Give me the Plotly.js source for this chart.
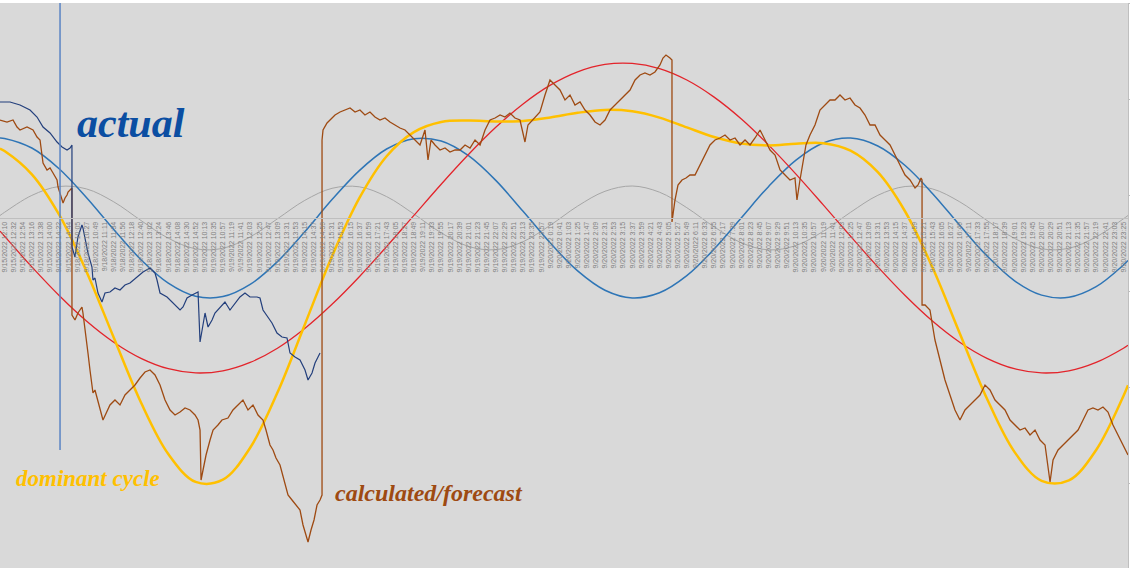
<!DOCTYPE html>
<html><head><meta charset="utf-8">
<script src="https://cdn.plot.ly/plotly-3.0.1.min.js"></script>
<style>html,body{margin:0;padding:0;background:#fff;} #chart{width:1130px;height:568px;}</style>
</head><body><div id="chart"></div>
<script>
// ---- tick labels (category axis, one label every 22 minutes) ----
const day0915 = "9/15/2022";
const times0915 = ["12:10","12:32","12:54","13:16","13:38","14:00","14:22","14:44"];
const day0918 = "9/18/2022";
const times0918 = ["10:05","10:27","10:49","11:11","11:34","11:56","12:18","12:40","13:02","13:24","13:46","14:08","14:30","14:52"];
const day0919 = "9/19/2022";
const times0919 = ["10:13","10:35","10:57","11:19","11:41","12:03","12:25","12:47","13:09","13:31","13:53","14:15","14:37","14:59",
  "15:31","15:53","16:15","16:37","16:59","17:21","17:43","18:05","18:27","18:49","19:11","19:33","19:55","20:17","20:39",
  "21:01","21:23","21:45","22:07","22:29","22:51","23:13","23:35","23:57"];
const day0920 = "9/20/2022";
const times0920 = ["0:19","0:41","1:03","1:25","1:47","2:09","2:31","2:53","3:15","3:37","3:59","4:21","4:43","5:05","5:27",
  "5:49","6:11","6:33","6:55","7:17","7:39","8:01","8:23","8:45","9:07","9:29","9:51","10:13","10:35","10:57","11:19","11:41",
  "12:03","12:25","12:47","13:09","13:31","13:53","14:15","14:37","14:59","15:21","15:43","16:05","16:27","16:49","17:11",
  "17:33","17:55","18:17","18:39","19:01","19:23","19:45","20:07","20:29","20:51","21:13","21:35","21:57","22:19","22:41",
  "23:03","23:25"];

// ---- cycle components (x in label units) ----
const cycleX = [-0.5,0,3,6,9,12,15,18,21,24,27,30,33,36,39,42,45,48,51,54,57,60,63,66,69,72,75,78,81,84,87,90,93,96,99,102,105,108,111,114,117,120,123,123.5];
const greyCycle = [2.5,5.7,22.6,31.5,29.1,16.2,-2.5,-20.2,-30.8,-30.3,-18.9,-0.8,17.6,29.7,31.2,21.4,4.0,-14.8,-28.4,-31.7,-23.7,-7.2,11.9,26.7,32.0,25.8,10.3,-8.8,-24.8,-31.9,-27.5,-13.3,5.7,22.7,31.5,29.1,16.2,-2.5,-20.3,-30.8,-30.3,-18.9,-0.8,2.5];
const blueCycle = [80,79.6,70.0,49.3,20.5,-11.5,-41.7,-65.1,-78.2,-78.6,-66.4,-43.6,-13.8,18.4,47.4,69.0,79.3,77.0,62.3,37.6,6.7,-25.1,-52.9,-72.2,-79.9,-74.8,-57.7,-31.1,0.3,31.6,57.9,75.0,79.9,72.0,52.5,24.6,-7.3,-37.9,-62.6,-77.1,-79.3,-68.7,-47.0,-42.5];
const redCycle = [-13.1,-18.3,-48.9,-77.5,-103.0,-124.2,-140.3,-150.7,-154.9,-152.8,-144.4,-130.2,-110.5,-86.3,-58.7,-28.6,2.6,33.8,63.5,90.7,114.1,132.9,146.2,153.6,154.6,149.4,138.0,120.9,99.0,72.9,43.9,13.1,-18.3,-48.9,-77.5,-103.0,-124.2,-140.3,-150.7,-154.9,-152.8,-144.4,-130.2,-127.2];
const dominantCycle = [69.4,67.0,43.7,3.3,-53.4,-119.5,-184.5,-236.0,-263.9,-261.7,-229.7,-174.6,-106.7,-38.2,19.9,61.8,85.9,96.0,97.4,96.6,97.1,100.6,105.2,108.1,106.7,100.4,90.6,81.0,74.5,72.6,74.3,74.8,67.3,45.8,6.5,-49.3,-115.3,-180.7,-233.6,-262.8,-262.4,-232.0,-178.0,-167.2];

// ---- calculated / forecast series ----
const forecastX = [-0.5,0.27,0.93,1.37,1.70,2.47,3.13,3.57,3.90,4.12,4.23,4.67,5.00,5.33,5.77,5.88,6.10,6.32,6.43,6.65,6.87,6.98,7.20,7.41,7.41,7.74,8.07,8.51,8.62,8.84,9.06,9.17,9.39,9.61,9.72,9.94,10.16,10.49,10.82,11.59,12.14,12.69,13.24,13.79,14.34,14.89,15.44,15.99,16.54,17.09,17.64,18.19,18.74,19.29,19.84,20.39,20.94,21.27,21.49,21.60,21.82,22.15,22.59,22.92,23.46,23.90,24.56,25.11,25.66,26.21,26.76,27.31,27.86,28.41,28.74,29.18,29.51,29.84,30.28,30.72,31.16,31.60,32.04,32.48,32.81,33.14,33.36,33.69,34.02,34.35,34.68,34.90,34.90,35.01,35.45,35.78,36.33,36.88,37.43,37.98,38.53,39.07,39.62,40.17,40.72,41.27,41.82,42.37,42.92,43.47,44.02,44.57,45.12,45.67,46.22,46.55,46.88,47.32,47.87,48.42,48.97,49.52,50.07,50.62,51.17,51.72,52.27,52.82,53.37,53.92,54.47,55.01,55.56,56.11,56.66,57.21,57.54,58.31,58.86,59.41,59.96,60.51,61.06,61.61,62.16,62.71,63.26,63.81,64.36,64.91,65.46,66.01,66.56,67.11,67.66,68.21,68.76,69.31,69.86,70.40,70.95,71.50,72.05,72.38,72.71,73.15,73.37,73.37,73.70,74.03,74.47,74.91,75.35,75.90,76.45,77.00,77.55,78.10,78.65,79.20,79.75,80.30,80.85,81.40,81.95,82.50,83.05,83.60,84.15,84.70,85.25,85.80,86.34,86.89,87.11,87.44,87.77,88.10,88.54,89.09,89.64,90.19,90.74,91.29,91.84,92.39,92.94,93.49,94.04,94.59,95.14,95.69,96.24,96.79,97.34,97.89,98.44,98.99,99.54,100.09,100.42,100.75,100.86,100.86,101.19,101.73,102.28,102.83,103.38,103.93,104.48,105.03,105.58,106.13,106.68,107.23,107.78,108.33,108.88,109.43,109.98,110.53,111.08,111.63,112.18,112.73,113.28,113.83,114.38,114.93,115.26,115.81,116.36,116.91,117.46,118.01,118.56,119.10,119.65,120.20,120.75,121.30,121.85,122.40,122.95,123.50];
const forecastY = [98,96,98,91,88,91,88,81,78,65,55,48,50,45,38,31,25,18,15,20,23,26,28,30,-97,-102,-95,-89,-95,-109,-125,-135,-152,-169,-175,-172,-179,-192,-202,-187,-182,-187,-177,-172,-167,-160,-154,-152,-157,-167,-182,-192,-197,-194,-190,-192,-197,-202,-212,-262,-252,-237,-222,-212,-207,-202,-200,-192,-187,-182,-192,-187,-197,-202,-212,-227,-232,-240,-247,-262,-277,-282,-287,-292,-307,-317,-324,-312,-302,-287,-282,-277,78,88,95,98,103,106,108,110,106,108,103,106,101,98,100,96,93,90,88,83,78,73,88,58,78,73,68,70,66,68,68,73,70,78,73,88,98,100,103,101,105,100,98,76,93,100,106,123,138,133,128,118,123,113,116,108,103,96,93,98,108,113,118,123,128,138,143,145,143,146,153,160,163,160,158,-4,18,33,38,40,43,43,53,63,73,78,80,83,78,80,73,78,73,80,88,78,68,63,48,43,38,40,18,38,58,73,83,93,108,113,118,118,123,118,120,113,110,103,93,93,83,78,73,63,53,43,38,30,33,40,38,-87,-87,-92,-122,-142,-162,-177,-192,-202,-192,-187,-182,-177,-167,-172,-182,-187,-192,-202,-207,-212,-210,-217,-212,-222,-227,-264,-242,-232,-227,-222,-217,-212,-202,-192,-190,-192,-189,-194,-207,-217,-227,-237];

// ---- actual series ----
const actualX = [-0.5,0.60,1.70,2.80,3.57,4.23,5.00,5.77,6.32,6.87,7.20,7.41,7.41,7.74,8.07,8.51,8.62,8.84,9.17,9.61,9.72,9.94,10.27,10.71,11.04,11.59,12.14,12.69,13.24,13.79,14.56,15.22,15.99,16.54,16.76,17.09,17.86,18.52,19.29,19.62,20.06,20.61,21.16,21.27,21.49,21.71,22.04,22.37,22.81,23.13,23.68,24.23,24.78,25.33,25.88,26.43,26.98,27.75,28.08,28.41,28.96,29.40,29.95,30.50,31.05,31.38,31.93,32.48,33.03,33.36,33.80,34.13,34.46,34.68];
const actualY = [116,116,113,108,101,91,85,76,71,68,70,73,-29,-39,-19,-7,-10,-19,-35,-49,-62,-60,-75,-84,-75,-74,-70,-72,-67,-65,-59,-54,-50,-55,-62,-75,-79,-85,-92,-89,-80,-77,-75,-74,-124,-112,-95,-109,-102,-95,-89,-84,-92,-85,-79,-75,-79,-79,-80,-92,-99,-105,-115,-119,-120,-135,-139,-142,-152,-162,-155,-145,-139,-135];

// ---- forecast start marker ----
const markerX = 6.10;
const markerLow = -232;

const yMin = -350, yMax = 215;
const xMin = -0.5, xMax = 123.5;

// build tick table
const tickText = [];
[[day0915,times0915],[day0918,times0918],[day0919,times0919],[day0920,times0920]].forEach(([d,ts])=>{
  ts.forEach(t=>tickText.push(d+" "+t));
});
const tickVals = tickText.map((_,i)=>i);

const traces = [
  {x:cycleX, y:greyCycle, mode:'lines', line:{color:'#a6a6a6', width:1, shape:'spline'}},
  {x:cycleX, y:blueCycle, mode:'lines', line:{color:'#2e75b6', width:1.5, shape:'spline'}},
  {x:cycleX, y:redCycle, mode:'lines', line:{color:'#e3242b', width:1.3, shape:'spline'}},
  {x:cycleX, y:dominantCycle, mode:'lines', line:{color:'#ffc000', width:2.5, shape:'spline'}},
  {x:forecastX, y:forecastY, mode:'lines', line:{color:'#9e4a12', width:1.3}},
  {x:actualX, y:actualY, mode:'lines', line:{color:'#233f7c', width:1.2}},
  {x:[markerX, markerX], y:[markerLow, yMax], mode:'lines', line:{color:'#5a84c4', width:1.5}},
  {x:[xMin], y:[0], yaxis:'y2', mode:'markers', marker:{opacity:0}, hoverinfo:'skip'}
];

const serif = "Liberation Serif, DejaVu Serif, serif";
const layout = {
  width:1130, height:568,
  margin:{l:0, r:2, t:3, b:0, pad:0},
  paper_bgcolor:'#ffffff', plot_bgcolor:'#d9d9d9',
  showlegend:false,
  xaxis:{
    type:'linear', range:[xMin,xMax], tickmode:'array', tickvals:tickVals, ticktext:tickText,
    tickangle:-90, tickfont:{family:'Liberation Sans, Arial, sans-serif', size:7, color:'#808080'},
    showline:true, linecolor:'#bfbfbf', linewidth:1, ticks:'', showgrid:false, zeroline:false,
    anchor:'free', position:(0 - yMin)/(yMax - yMin), automargin:false, fixedrange:true
  },
  yaxis:{range:[yMin,yMax], showticklabels:false, showgrid:false, zeroline:false, showline:false, ticks:'', fixedrange:true},
  yaxis2:{overlaying:'y', side:'right', range:[-0.875, 5.01], tick0:0, dtick:1, ticks:'outside', ticklen:4,
    tickcolor:'#bfbfbf', showline:true, linecolor:'#bfbfbf', linewidth:1, showticklabels:false, showgrid:false,
    zeroline:false, fixedrange:true},
  annotations:[
    {x:7.74, y:95, xanchor:'left', yanchor:'middle', showarrow:false, text:'<b><i>actual</i></b>',
      font:{family:serif, size:42, color:'#0b4ea2'}},
    {x:1.04, y:-260, xanchor:'left', yanchor:'middle', showarrow:false, text:'<b><i>dominant cycle</i></b>',
      font:{family:serif, size:23, color:'#ffc000'}},
    {x:36.1, y:-275, xanchor:'left', yanchor:'middle', showarrow:false, text:'<b><i>calculated/forecast</i></b>',
      font:{family:serif, size:24, color:'#9e4a12'}}
  ]
};

Plotly.newPlot('chart', traces, layout, {displayModeBar:false, staticPlot:true});
</script></body></html>
